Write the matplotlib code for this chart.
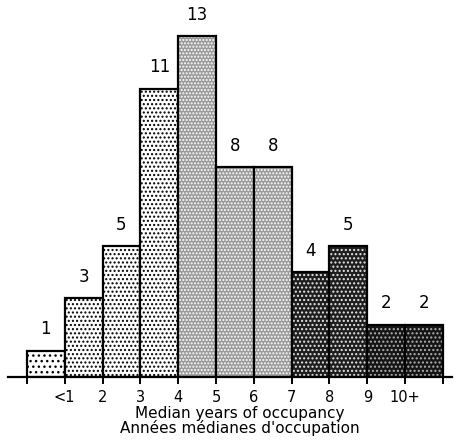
import numpy as np
import matplotlib.pyplot as plt

# Number of dwellings by median years of occupancy
counts = [1, 3, 5, 11, 13, 8, 8, 4, 5, 2, 2]
tick_labels = ["<1", "2", "3", "4", "5", "6", "7", "8", "9", "10+"]
# shading group of each bar: 0 sparse dots, 1 light dots, 2 grey stipple, 3 dark, 4 darkest
groups = [0, 1, 1, 1, 2, 2, 2, 3, 3, 4, 4]

styles = {
    0: dict(face="white", hatch="...", hcol="black"),
    1: dict(face="white", hatch="....", hcol="black"),
    2: dict(face="#9a9a9a", hatch=".....", hcol="#ffffff"),
    3: dict(face="#1e1e1e", hatch="....", hcol="#e6e6e6"),
    4: dict(face="#151515", hatch="....", hcol="#b0b0b0"),
}

plt.rcParams['font.family'] = 'DejaVu Sans'
plt.rcParams['hatch.linewidth'] = 1.0

fig = plt.figure(figsize=(4.57, 4.45), dpi=100)
ax = fig.add_axes([8 / 457, 68 / 445, 444 / 457, 377 / 445])

x = np.arange(len(counts))
for xi, c, g in zip(x, counts, groups):
    s = styles[g]
    # fill + pattern, then the outline on top
    ax.bar(xi, c, width=1.0, align="edge", color=s["face"], edgecolor=s["hcol"],
           hatch=s["hatch"], linewidth=0)
    ax.bar(xi, c, width=1.0, align="edge", fill=False, edgecolor="black",
           linewidth=1.6)
    ax.annotate(str(c), (xi + 0.5, c), xytext=(0, 9), textcoords="offset points",
                ha="center", va="bottom", fontsize=12)

ax.set_xlim(-0.5, 11.24)
ax.set_ylim(0, 14.39)

for side in ["left", "right", "top"]:
    ax.spines[side].set_visible(False)
ax.spines["bottom"].set_linewidth(1.6)
ax.set_yticks([])

ax.set_xticks(np.arange(len(counts) + 1))
ax.set_xticklabels([""] + tick_labels + [""], fontsize=10.5)
ax.tick_params(axis="x", direction="out", length=5, width=1.4, pad=4)

ax.set_xlabel("Median years of occupancy\nAnnées médianes d'occupation",
              fontsize=11, linespacing=0.95, labelpad=4)
ax.xaxis.set_label_coords(232 / 444, -0.076)
ax.xaxis.label.set_va("top")

fig.savefig("out.png", dpi=100)
